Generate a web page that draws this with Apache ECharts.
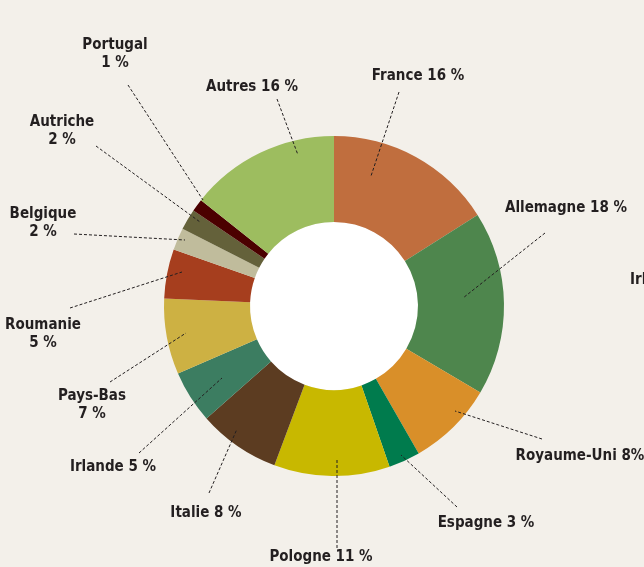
<!DOCTYPE html>
<html>
<head>
    <meta charset="utf-8">
    <title>ECharts</title>
    <script src="https://cdn.jsdelivr.net/npm/echarts@6/dist/echarts.min.js"></script>
    <style>
        html, body { margin: 0; padding: 0; background: #f3f0ea; }
        #main { width: 644px; height: 567px; }
    </style>
</head>
<body>
<div id="main"></div>
<script type="text/javascript">
    var countries = ['France', 'Allemagne', 'Royaume-Uni', 'Espagne', 'Pologne', 'Italie', 'Irlande',
        'Pays-Bas', 'Roumanie', 'Belgique', 'Autriche', 'Portugal', 'Autres'];
    var shares = [16, 17.5, 8.2, 3, 11, 7.8, 5, 7.2, 4.7, 2.1, 2, 1.2, 14.3];
    var labels = ['France 16 %', 'Allemagne 18 %', 'Royaume-Uni 8%', 'Espagne 3 %', 'Pologne 11 %',
        'Italie 8 %', 'Irlande 5 %', 'Pays-Bas\n7 %', 'Roumanie\n5 %', 'Belgique\n2 %',
        'Autriche\n2 %', 'Portugal\n1 %', 'Autres 16 %'];
    var colors = ['#c06e3e', '#4e864d', '#d98f29', '#007b4d', '#c8b800', '#5c3c21', '#3c7d61',
        '#cdb143', '#a63e1e', '#c0bc9c', '#64613a', '#4b0000', '#9dbd5f'];

    // position des etiquettes : [x, y, debut trait x, y, fin trait x, y]
    var spots = [
        [418, 76, 399, 92, 371, 176],
        [566, 208, 545, 233, 463, 298],
        [580, 456, 542, 439, 455, 411],
        [486, 523, 457, 507, 401, 455],
        [321, 557, 337, 548, 337, 459],
        [206, 513, 209, 493, 237, 429],
        [113, 467, 139, 453, 222, 378],
        [92, 405, 110, 382, 186, 333],
        [43, 334, 70, 308, 182, 272],
        [43, 223, 74, 234, 185, 240],
        [62, 131, 96, 146, 200, 222],
        [115, 54, 128, 85, 203, 200],
        [252, 87, 277, 99, 298, 155]
    ];

    var FONT = '"DejaVu Sans Condensed", "DejaVu Sans", sans-serif';

    var myChart = echarts.init(document.getElementById('main'));

    var pieData = countries.map(function (c, i) {
        return { name: c, value: shares[i], itemStyle: { color: colors[i] } };
    });
    // meme decoupage, transparent, qui porte les etiquettes au-dessus des secteurs
    var labelData = countries.map(function (c, i) {
        return { name: c, value: shares[i], itemStyle: { color: 'rgba(0,0,0,0)' } };
    });

    var option = {
        backgroundColor: '#f3f0ea',
        textStyle: { fontFamily: FONT },
        graphic: [{
            type: 'text',
            left: 630,
            top: 273,
            style: {
                text: 'Irlande',
                fill: '#231f20',
                font: 'bold 15px ' + FONT
            }
        }],
        series: [{
            type: 'pie',
            center: [334, 306],
            radius: [0, 84],
            silent: true,
            label: { show: false },
            labelLine: { show: false },
            data: [{ value: 1, itemStyle: { color: '#ffffff' } }]
        }, {
            name: 'parts',
            type: 'pie',
            center: [334, 306],
            radius: [84, 170],
            startAngle: 90,
            clockwise: true,
            silent: true,
            itemStyle: { borderWidth: 0 },
            label: { show: false },
            labelLine: { show: false },
            data: pieData
        }, {
            name: 'etiquettes',
            type: 'pie',
            z: 5,
            center: [334, 306],
            radius: [84, 170],
            startAngle: 90,
            clockwise: true,
            silent: true,
            avoidLabelOverlap: false,
            itemStyle: { borderWidth: 0 },
            label: {
                show: true,
                position: 'outside',
                formatter: function (p) { return labels[p.dataIndex]; },
                color: '#231f20',
                fontFamily: FONT,
                fontWeight: 'bold',
                fontSize: 15,
                lineHeight: 18,
                align: 'center'
            },
            labelLine: {
                show: true,
                lineStyle: { color: '#231f20', width: 1, type: [3, 2] }
            },
            labelLayout: function (params) {
                var s = spots[params.dataIndex];
                return {
                    x: s[0],
                    y: s[1],
                    align: 'center',
                    verticalAlign: 'middle',
                    labelLinePoints: [[s[2], s[3]], [(s[2] + s[4]) / 2, (s[3] + s[5]) / 2], [s[4], s[5]]]
                };
            },
            data: labelData
        }]
    };

    myChart.setOption(option);
</script>
</body>
</html>
